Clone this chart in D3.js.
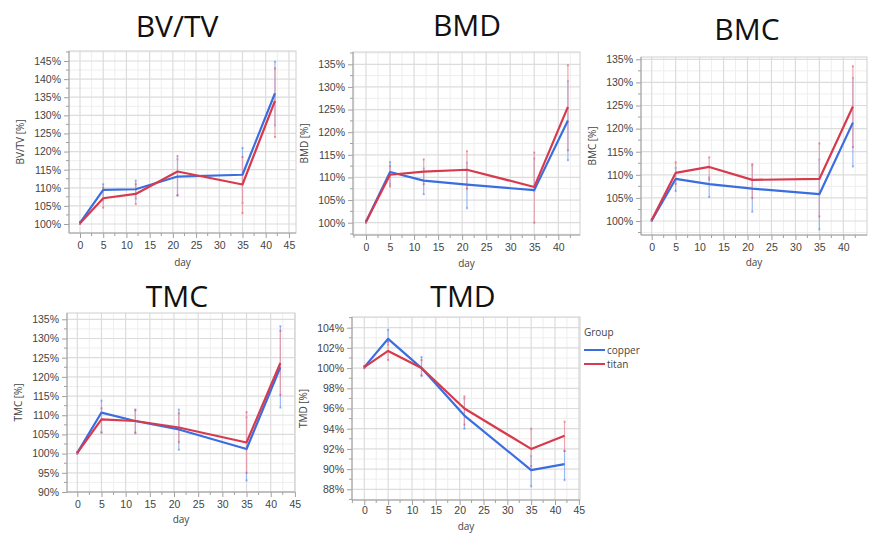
<!DOCTYPE html>
<html>
<head>
<meta charset="utf-8">
<title>Bone parameters</title>
<script src="https://cdn.jsdelivr.net/npm/d3@7"></script>
<style>
  body { margin: 0; background: #fff; }
  svg { display: block; font-family: "Open Sans", "Noto Sans", sans-serif; }
  .tick-lab { font-size: 10.5px; fill: #444; }
  .ax-title { font-size: 10px; fill: #444; }
  .p-title { font-size: 30px; fill: #111; }
</style>
</head>
<body>
<svg id="chart" width="875" height="533"></svg>
<script>
// sampling days
var days = [0, 5, 12, 21, 35, 42];
var groups = ["copper", "titan"];

// BV/TV
var bvtvCopper   = [100.3, 109.4, 109.6, 113.1, 113.6, 136.1];
var bvtvTitan    = [100.2, 107.1, 108.3, 114.5, 110.9, 134.0];
var bvtvCopperLo = [100.0, 106.5, 107.0, 107.8, 105.8, 127.2];
var bvtvCopperHi = [100.6, 111.0, 112.0, 118.0, 121.0, 144.8];
var bvtvTitanLo  = [100.0, 104.5, 105.5, 108.0, 103.0, 124.0];
var bvtvTitanHi  = [100.5, 110.0, 111.0, 118.8, 118.5, 143.0];

// BMD
var bmdCopper   = [100.2, 111.2, 109.3, 108.4, 107.2, 122.6];
var bmdTitan    = [100.2, 110.6, 111.3, 111.7, 107.9, 125.6];
var bmdCopperLo = [100.0, 108.5, 106.3, 103.2, 107.0, 113.8];
var bmdCopperHi = [100.4, 113.4, 112.0, 113.3, 114.2, 131.3];
var bmdTitanLo  = [100.0, 108.0, 108.5, 107.5, 100.0, 116.0];
var bmdTitanHi  = [100.4, 112.5, 114.0, 115.8, 115.5, 134.8];

// BMC
var bmcCopper   = [100.1, 109.1, 108.0, 107.0, 105.8, 121.3];
var bmcTitan    = [100.2, 110.4, 111.7, 108.9, 109.1, 124.8];
var bmcCopperLo = [100.0, 106.5, 105.2, 102.0, 98.2, 111.8];
var bmcCopperHi = [100.3, 111.5, 109.5, 112.0, 113.3, 131.0];
var bmcTitanLo  = [100.0, 108.0, 109.0, 105.0, 101.0, 116.0];
var bmcTitanHi  = [100.4, 112.7, 113.8, 112.3, 116.8, 133.5];

// TMC
var tmcCopper   = [100.2, 110.7, 108.5, 106.3, 101.2, 122.5];
var tmcTitan    = [100.2, 108.9, 108.5, 106.8, 102.9, 123.6];
var tmcCopperLo = [100.0, 105.5, 105.3, 101.0, 93.0, 112.0];
var tmcCopperHi = [100.4, 113.8, 111.5, 111.5, 109.5, 133.2];
var tmcTitanLo  = [100.0, 105.5, 105.5, 103.0, 95.0, 115.3];
var tmcTitanHi  = [100.4, 111.8, 111.3, 110.5, 110.8, 132.0];

// TMD
var tmdCopper   = [100.1, 102.9, 100.0, 95.3, 89.9, 90.5];
var tmdTitan    = [100.1, 101.7, 100.0, 96.0, 92.0, 93.3];
var tmdCopperLo = [100.0, 102.3, 99.2, 94.0, 88.3, 88.9];
var tmdCopperHi = [100.2, 103.8, 101.1, 97.0, 91.3, 91.8];
var tmdTitanLo  = [100.0, 100.8, 99.3, 94.4, 90.3, 91.8];
var tmdTitanHi  = [100.2, 102.6, 100.8, 97.2, 94.0, 94.7];

var xTicks = [0, 5, 10, 15, 20, 25, 30, 35, 40, 45];

var colors = { copper: "#3a6ee0", titan: "#d73a4c" };
var barColors = { copper: "#8aaef0", titan: "#eb98a3" };

var panels = [
  { title: "BV/TV", ylab: "BV/TV [%]", box: { l: 69, r: 296, t: 51, b: 233 }, tx: 177, ty: 37, dayY: 266, pad: 4,
    xr: [80, 265.7], yd: [100, 145], yr: [224, 61], step: 5,
    mean: { copper: bvtvCopper, titan: bvtvTitan },
    lo: { copper: bvtvCopperLo, titan: bvtvTitanLo }, hi: { copper: bvtvCopperHi, titan: bvtvTitanHi } },
  { title: "BMD", ylab: "BMD [%]", box: { l: 353, r: 580, t: 52, b: 235 }, tx: 467, ty: 36, dayY: 267, pad: 4,
    xr: [366, 558.3], yd: [100, 135], yr: [222.7, 64.3], step: 5,
    mean: { copper: bmdCopper, titan: bmdTitan },
    lo: { copper: bmdCopperLo, titan: bmdTitanLo }, hi: { copper: bmdCopperHi, titan: bmdTitanHi } },
  { title: "BMC", ylab: "BMC [%]", box: { l: 641, r: 867, t: 57, b: 235 }, tx: 747, ty: 40, dayY: 266, pad: 4,
    xr: [651.7, 843.3], yd: [100, 135], yr: [221, 59.3], step: 5,
    mean: { copper: bmcCopper, titan: bmcTitan },
    lo: { copper: bmcCopperLo, titan: bmcTitanLo }, hi: { copper: bmcCopperHi, titan: bmcTitanHi } },
  { title: "TMC", ylab: "TMC [%]", box: { l: 67, r: 295, t: 313, b: 492 }, tx: 177, ty: 307, dayY: 523, pad: 4,
    xr: [77.3, 270.7], yd: [90, 135], yr: [492, 319.3], step: 5,
    mean: { copper: tmcCopper, titan: tmcTitan },
    lo: { copper: tmcCopperLo, titan: tmcTitanLo }, hi: { copper: tmcCopperHi, titan: tmcTitanHi } },
  { title: "TMD", ylab: "TMD [%]", box: { l: 352, r: 580, t: 317, b: 500 }, tx: 463, ty: 307, dayY: 529.5, pad: 2,
    xr: [364.3, 555], yd: [88, 104], yr: [489.3, 327.7], step: 2,
    mean: { copper: tmdCopper, titan: tmdTitan },
    lo: { copper: tmdCopperLo, titan: tmdTitanLo }, hi: { copper: tmdCopperHi, titan: tmdTitanHi } }
];

var svg = d3.select("#chart");

panels.forEach(function (p, i) {
  var b = p.box;
  var x = d3.scaleLinear().domain([0, 40]).range(p.xr);
  var y = d3.scaleLinear().domain(p.yd).range(p.yr);
  var xMin = x.invert(b.l), xMax = x.invert(b.r);
  var yMin = y.invert(b.b), yMax = y.invert(b.t);

  var yTicks = d3.range(p.yd[0], p.yd[1] + 0.001, p.step);
  var yMinor = d3.range(p.yd[0] - p.step / 2, yMax, p.step / 2).filter(function (v) {
    return v > yMin && v < yMax && yTicks.indexOf(v) < 0;
  });
  var xMinor = d3.range(-2.5, xMax, 2.5).filter(function (v) {
    return v > xMin && v < xMax && xTicks.indexOf(v) < 0;
  });
  var xMajor = xTicks.filter(function (v) { return v < xMax; });

  var g = svg.append("g");
  g.append("clipPath").attr("id", "clip" + i)
    .append("rect").attr("x", b.l).attr("y", b.t).attr("width", b.r - b.l).attr("height", b.b - b.t);

  // title
  g.append("text").attr("class", "p-title")
    .attr("x", p.tx).attr("y", p.ty).attr("text-anchor", "middle").text(p.title);

  // grid
  var grid = g.append("g");
  grid.selectAll(".vmin").data(xMinor).enter().append("line")
    .attr("x1", x).attr("x2", x).attr("y1", b.t).attr("y2", b.b)
    .attr("stroke", "#eeeeee").attr("stroke-width", 1);
  grid.selectAll(".hmin").data(yMinor).enter().append("line")
    .attr("y1", y).attr("y2", y).attr("x1", b.l).attr("x2", b.r)
    .attr("stroke", "#eeeeee").attr("stroke-width", 1);
  grid.selectAll(".vmaj").data(xMajor).enter().append("line")
    .attr("x1", x).attr("x2", x).attr("y1", b.t).attr("y2", b.b)
    .attr("stroke", "#dcdcdc").attr("stroke-width", 1.2);
  grid.selectAll(".hmaj").data(yTicks).enter().append("line")
    .attr("y1", y).attr("y2", y).attr("x1", b.l).attr("x2", b.r)
    .attr("stroke", "#dcdcdc").attr("stroke-width", 1.2);

  // frame
  g.append("rect").attr("x", b.l).attr("y", b.t).attr("width", b.r - b.l).attr("height", b.b - b.t)
    .attr("fill", "none").attr("stroke", "#d0d0d0");

  // axes
  var xAxis = d3.axisBottom(x).tickValues(xMajor).tickSize(5).tickPadding(p.pad);
  var gx = g.append("g").attr("transform", "translate(0," + b.b + ")").call(xAxis);
  gx.select(".domain").attr("d", "M" + b.l + ",0H" + b.r).attr("stroke", "#a0a0a0");
  gx.selectAll(".tick line").attr("stroke", "#a0a0a0");
  gx.selectAll(".tick text").attr("class", "tick-lab").attr("font-size", null).attr("font-family", null).attr("fill", null);
  gx.append("g").selectAll("line").data(xMinor).enter().append("line")
    .attr("x1", x).attr("x2", x).attr("y1", 0).attr("y2", 3).attr("stroke", "#a0a0a0");

  var yAxis = d3.axisLeft(y).tickValues(yTicks).tickSize(5).tickPadding(3)
    .tickFormat(function (d) { return d + "%"; });
  var gy = g.append("g").attr("transform", "translate(" + b.l + ",0)").call(yAxis);
  gy.select(".domain").attr("d", "M0," + b.t + "V" + b.b).attr("stroke", "#a0a0a0");
  gy.selectAll(".tick line").attr("stroke", "#a0a0a0");
  gy.selectAll(".tick text").attr("class", "tick-lab").attr("font-size", null).attr("font-family", null).attr("fill", null);
  gy.append("g").selectAll("line").data(yMinor).enter().append("line")
    .attr("y1", y).attr("y2", y).attr("x1", 0).attr("x2", -3).attr("stroke", "#a0a0a0");

  // axis titles
  g.append("text").attr("class", "ax-title")
    .attr("x", (b.l + b.r) / 2).attr("y", p.dayY).attr("text-anchor", "middle").text("day");
  g.append("text").attr("class", "ax-title")
    .attr("transform", "translate(" + (b.l - 45) + "," + ((b.t + b.b) / 2) + ") rotate(-90)")
    .attr("text-anchor", "middle").text(p.ylab);

  // error bars + lines
  var plot = g.append("g").attr("clip-path", "url(#clip" + i + ")");
  groups.forEach(function (grp) {
    var eb = plot.append("g");
    var rows = days.map(function (d, k) { return { day: d, lo: p.lo[grp][k], hi: p.hi[grp][k] }; });
    eb.selectAll("line").data(rows).enter().append("line")
      .attr("x1", function (d) { return x(d.day); }).attr("x2", function (d) { return x(d.day); })
      .attr("y1", function (d) { return y(d.lo); }).attr("y2", function (d) { return y(d.hi); })
      .attr("stroke", barColors[grp]).attr("stroke-width", 1.2).attr("opacity", 0.85);
    eb.selectAll("rect.lo").data(rows).enter().append("rect")
      .attr("x", function (d) { return x(d.day) - 1; }).attr("y", function (d) { return y(d.lo) - 1; })
      .attr("width", 2).attr("height", 2).attr("fill", colors[grp]).attr("opacity", 0.45);
    eb.selectAll("rect.hi").data(rows).enter().append("rect")
      .attr("x", function (d) { return x(d.day) - 1; }).attr("y", function (d) { return y(d.hi) - 1; })
      .attr("width", 2).attr("height", 2).attr("fill", colors[grp]).attr("opacity", 0.45);
  });
  groups.forEach(function (grp) {
    var line = d3.line().x(function (d) { return x(d); })
      .y(function (d, k) { return y(p.mean[grp][k]); });
    plot.append("path").datum(days).attr("d", line)
      .attr("fill", "none").attr("stroke", colors[grp]).attr("stroke-width", 2.2)
      .attr("stroke-linejoin", "round");
  });
});

// legend
var lg = svg.append("g").attr("transform", "translate(584,336)");
lg.append("text").attr("class", "ax-title").attr("font-size", "10.5px").attr("x", 0).attr("y", 0).text("Group");
groups.forEach(function (grp, k) {
  var yy = 14 + k * 14;
  lg.append("line").attr("x1", 0).attr("x2", 21).attr("y1", yy).attr("y2", yy)
    .attr("stroke", colors[grp]).attr("stroke-width", 2);
  lg.append("text").attr("class", "ax-title").attr("font-size", "10.5px").attr("x", 23).attr("y", yy + 3.5).text(grp);
});
</script>
</body>
</html>
